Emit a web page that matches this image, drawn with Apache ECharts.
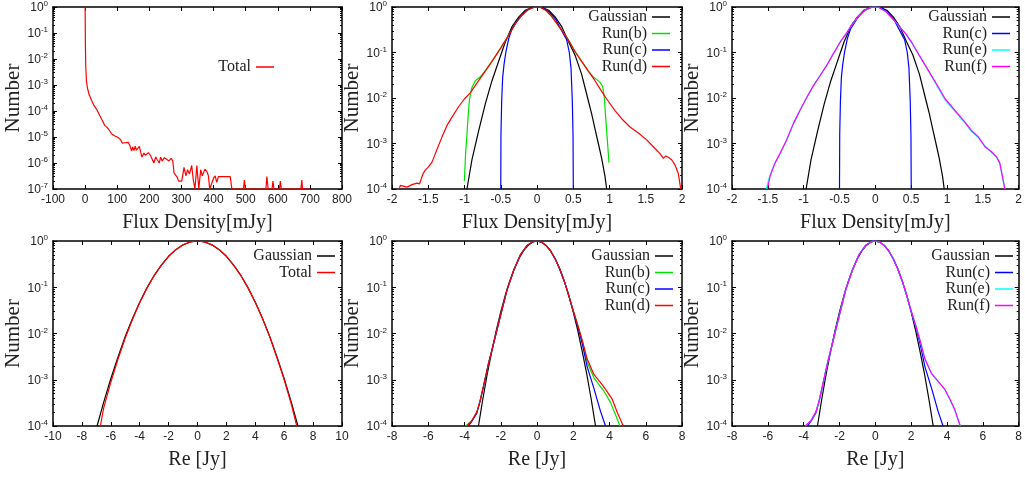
<!DOCTYPE html>
<html><head><meta charset="utf-8">
<script src="https://cdn.jsdelivr.net/npm/echarts@6/dist/echarts.min.js"></script>
<style>html,body{margin:0;padding:0;background:#fff}#c{width:1025px;height:477px}</style>
</head><body><div id="c"></div>
<script>
// ---------- tick labels ----------
const xTicksTotal = [-100, 0, 100, 200, 300, 400, 500, 600, 700, 800];
const xTicksFlux = [-2, -1.5, -1, -0.5, 0, 0.5, 1, 1.5, 2];
const xTicksReTotal = [-10, -8, -6, -4, -2, 0, 2, 4, 6, 8, 10];
const xTicksRe = [-8, -6, -4, -2, 0, 2, 4, 6, 8];
const yTicksWide = [1e-7, 1e-6, 1e-5, 1e-4, 1e-3, 1e-2, 1e-1, 1];
const yTicksNarrow = [1e-4, 1e-3, 1e-2, 1e-1, 1];
const minorMultipliers = [2, 3, 4, 5, 6, 7, 8, 9];

// ---------- panel 1: Total flux density ----------
const totalFlux = [[0,1],[1,0.03],[2,5e-3],[4,1.5e-3],[7,8e-4],[12,4.5e-4],[20,2.6e-4],[28,1.6e-4],[37,1.1e-4],[46,6.6e-5],[54,4.2e-5],[61,2.8e-5],[69,2.3e-5],[77,1.7e-5],[83,1.3e-5],[93,1.1e-5],[103,9.5e-6],[110,8e-6],[116,5.8e-6],[124,6e-6],[134,6.2e-6],[139,4.8e-6],[145,2.9e-6],[148,4.2e-6],[152,3.0e-6],[156,4.4e-6],[160,3.1e-6],[164,3.6e-6],[169,4.4e-6],[173,2.6e-6],[177,1.7e-6],[183,2.4e-6],[188,2.0e-6],[197,2.5e-6],[204,1.9e-6],[210,1.3e-6],[214,1.0e-6],[220,1.7e-6],[225,1.3e-6],[231,1.0e-6],[235,1.7e-6],[240,1.2e-6],[247,1.6e-6],[254,1.4e-6],[261,1.2e-6],[268,1.5e-6],[273,1.2e-6],[277,4.2e-7],[282,5e-7],[287,2.8e-7],[291,2e-7],[301,2e-7],[308,6.8e-7],[314,3.2e-7],[319,5.5e-7],[325,3.8e-7],[332,8e-7],[337,2.2e-7],[342,1e-7],[348,8e-7],[354,1e-7],[360,5.5e-7],[365,3.2e-7],[373,5.8e-7],[379,4.8e-7],[384,3.2e-7],[388,1e-7],[400,2.6e-7],[405,3.2e-7],[410,1.8e-7],[415,3e-7],[452,3e-7],[457,1e-7],[493,1e-7],[496,2.2e-7],[499,1e-7],[563,1e-7],[566,3e-7],[570,1e-7],[582,1e-7],[585,2e-7],[588,1e-7],[605,1e-7],[608,2e-7],[611,1e-7],[672,1e-7],[675,2.2e-7],[677,1e-7],[700,1e-7]];

// ---------- panels 2 & 3: flux density distributions ----------
const gaussFlux = [[-0.966,1e-4],[-0.897,4.4e-4],[-0.805,1.9e-3],[-0.713,7.4e-3],[-0.621,0.024],[-0.529,0.064],[-0.437,0.17],[-0.345,0.37],[-0.253,0.6],[-0.161,0.85],[-0.069,0.98],[0,1],[0.069,0.98],[0.161,0.85],[0.253,0.6],[0.345,0.36],[0.437,0.17],[0.524,0.088],[0.57,0.054],[0.616,0.033],[0.662,0.017],[0.708,8.7e-3],[0.754,4.5e-3],[0.8,2.1e-3],[0.846,1e-3],[0.892,4.7e-4],[0.938,1.9e-4],[0.961,1e-4]];
const runBFlux = [[-1.002,1.5e-4],[-0.985,6e-4],[-0.966,1.6e-3],[-0.95,4e-3],[-0.933,8.7e-3],[-0.915,0.013],[-0.897,0.017],[-0.851,0.024],[-0.782,0.029],[-0.736,0.036],[-0.713,0.04],[-0.621,0.064],[-0.501,0.125],[-0.391,0.24],[-0.299,0.43],[-0.207,0.66],[-0.115,0.89],[-0.023,1],[0.05,0.98],[0.12,0.85],[0.202,0.62],[0.34,0.31],[0.432,0.19],[0.524,0.105],[0.616,0.064],[0.708,0.039],[0.777,0.029],[0.83,0.025],[0.869,0.022],[0.906,0.018],[0.929,0.010],[0.947,3.8e-3],[0.970,1.2e-3],[0.993,3.8e-4]];
const runCFlux = [[-0.5,1e-4],[-0.497,1.6e-3],[-0.487,8.7e-3],[-0.474,0.028],[-0.455,0.054],[-0.428,0.105],[-0.391,0.2],[-0.345,0.33],[-0.253,0.56],[-0.161,0.82],[-0.069,0.97],[0,1],[0.069,0.97],[0.161,0.8],[0.253,0.55],[0.363,0.26],[0.409,0.19],[0.446,0.1],[0.469,0.046],[0.487,8.7e-3],[0.497,1.5e-3],[0.501,1e-4]];
const runDFlux = [[-1.9,1e-4],[-1.885,1.2e-4],[-1.86,1.1e-4],[-1.793,1.1e-4],[-1.724,1.25e-4],[-1.655,1.35e-4],[-1.62,1.3e-4],[-1.595,1.4e-4],[-1.57,2.2e-4],[-1.54,2.6e-4],[-1.494,3.1e-4],[-1.448,3.9e-4],[-1.402,6e-4],[-1.31,1.4e-3],[-1.241,2.5e-3],[-1.172,3.8e-3],[-1.08,6.5e-3],[-1.002,9.5e-3],[-0.92,0.013],[-0.805,0.024],[-0.713,0.039],[-0.621,0.064],[-0.501,0.125],[-0.391,0.24],[-0.299,0.43],[-0.207,0.66],[-0.115,0.89],[-0.023,1],[0.05,0.98],[0.12,0.85],[0.202,0.62],[0.34,0.31],[0.432,0.19],[0.524,0.105],[0.616,0.064],[0.708,0.039],[0.8,0.024],[0.892,0.014],[0.961,9.5e-3],[1.076,5.3e-3],[1.168,3.5e-3],[1.283,2.3e-3],[1.398,1.7e-3],[1.513,1.2e-3],[1.605,8.5e-4],[1.697,6e-4],[1.743,4.7e-4],[1.775,5.3e-4],[1.811,5e-4],[1.857,4.4e-4],[1.903,3.4e-4],[1.949,2.2e-4],[1.982,1e-4]];
const runEFlux = [[-1.52,1e-4],[-1.48,1.8e-4],[-1.41,3.5e-4],[-1.331,5.8e-4],[-1.239,1.15e-3],[-1.146,2.6e-3],[-1.054,5.1e-3],[-0.962,9.8e-3],[-0.87,0.018],[-0.777,0.03],[-0.685,0.05],[-0.593,0.09],[-0.5,0.16],[-0.408,0.26],[-0.316,0.43],[-0.224,0.66],[-0.131,0.88],[-0.039,1],[0.05,0.98],[0.145,0.8],[0.28,0.47],[0.422,0.26],[0.514,0.16],[0.607,0.09],[0.745,0.039],[0.883,0.016],[0.976,9e-3],[1.114,5e-3],[1.253,2.8e-3],[1.345,1.8e-3],[1.437,1.35e-3],[1.53,8.8e-4],[1.622,6.3e-4],[1.691,5e-4],[1.737,3.6e-4],[1.783,1.5e-4],[1.81,1e-4]];
const runFFlux = [[-1.506,1e-4],[-1.469,1.9e-4],[-1.4,3.7e-4],[-1.331,6e-4],[-1.239,1.2e-3],[-1.146,2.7e-3],[-1.054,5.3e-3],[-0.962,0.010],[-0.87,0.018],[-0.777,0.030],[-0.685,0.05],[-0.593,0.09],[-0.5,0.16],[-0.408,0.26],[-0.316,0.43],[-0.224,0.66],[-0.131,0.88],[-0.039,1],[0.05,0.98],[0.145,0.8],[0.28,0.47],[0.422,0.26],[0.514,0.16],[0.607,0.09],[0.745,0.039],[0.883,0.017],[0.976,9.5e-3],[1.114,5.3e-3],[1.253,2.9e-3],[1.345,1.9e-3],[1.437,1.4e-3],[1.53,8.5e-4],[1.622,6.6e-4],[1.691,5.1e-4],[1.737,3.7e-4],[1.783,1.6e-4],[1.806,1e-4]];

// ---------- panel 4: Re, total ----------
const gaussReTotal = [[-6.95,1e-4],[-6.5,3.2e-4],[-6,1.05e-3],[-5.5,3.1e-3],[-5,8.6e-3],[-4.5,0.021],[-4,0.0476],[-3.5,0.097],[-3,0.18],[-2.5,0.30],[-2,0.467],[-1.5,0.65],[-1,0.826],[-0.5,0.953],[0,1],[0.5,0.953],[1,0.826],[1.5,0.65],[2,0.467],[2.5,0.30],[3,0.18],[3.5,0.097],[4,0.0476],[4.5,0.021],[5,8.6e-3],[5.5,3.1e-3],[6,1.05e-3],[6.5,3.2e-4],[6.95,1e-4]];
const totalRe = [[-6.72,1e-4],[-6.5,2.4e-4],[-6,8.8e-4],[-5.5,2.8e-3],[-5,8e-3],[-4.5,0.02],[-4,0.046],[-3.5,0.095],[-3,0.178],[-2.5,0.30],[-2,0.467],[-1.5,0.65],[-1,0.83],[-0.5,0.955],[0,1],[0.5,0.953],[1,0.826],[1.5,0.65],[2,0.467],[2.5,0.30],[3,0.18],[3.5,0.097],[4,0.0476],[4.5,0.021],[5,8.5e-3],[5.5,3e-3],[6,1e-3],[6.5,2.9e-4],[6.87,1e-4]];

// ---------- panels 5 & 6: Re per run ----------
const gaussRe = [[-3.23,1e-4],[-3,3.6e-4],[-2.75,1.3e-3],[-2.5,4e-3],[-2.25,0.0115],[-2,0.0293],[-1.75,0.067],[-1.5,0.137],[-1.25,0.252],[-1,0.414],[-0.75,0.609],[-0.5,0.80],[-0.25,0.946],[0,1],[0.25,0.946],[0.5,0.80],[0.75,0.609],[1,0.414],[1.25,0.252],[1.5,0.137],[1.75,0.067],[2,0.0293],[2.25,0.0115],[2.5,4e-3],[2.75,1.3e-3],[3,3.6e-4],[3.23,1e-4]];
const runBRe = [[-3.93,1e-4],[-3.6,1.3e-4],[-3.32,2e-4],[-3.14,3.5e-4],[-2.95,7.4e-4],[-2.68,2.2e-3],[-2.4,6e-3],[-2.03,0.023],[-1.66,0.086],[-1.29,0.23],[-0.92,0.5],[-0.55,0.8],[-0.18,0.99],[0,1],[0.25,0.946],[0.5,0.8],[0.75,0.609],[1,0.414],[1.25,0.252],[1.5,0.137],[1.75,0.067],[2,0.031],[2.3,0.013],[2.5,6.8e-3],[2.77,2.4e-3],[3.14,1.1e-3],[3.69,5.7e-4],[4.06,3.2e-4],[4.43,1.4e-4],[4.58,1e-4]];
const runCRe = [[-3.78,1e-4],[-3.6,1.25e-4],[-3.32,1.9e-4],[-3.14,3.4e-4],[-2.95,7.2e-4],[-2.68,2.2e-3],[-2.4,6e-3],[-2.03,0.023],[-1.66,0.086],[-1.29,0.23],[-0.92,0.5],[-0.55,0.8],[-0.18,0.99],[0,1],[0.25,0.946],[0.5,0.8],[0.75,0.609],[1,0.414],[1.25,0.252],[1.5,0.137],[1.75,0.067],[2,0.03],[2.3,0.012],[2.5,6e-3],[2.77,1.9e-3],[3.14,6.5e-4],[3.5,2.1e-4],[3.78,1e-4]];
const runDRe = [[-3.87,1e-4],[-3.6,1.3e-4],[-3.32,2e-4],[-3.14,3.5e-4],[-2.95,7.4e-4],[-2.68,2.2e-3],[-2.4,6e-3],[-2.03,0.023],[-1.66,0.086],[-1.29,0.23],[-0.92,0.5],[-0.55,0.8],[-0.18,0.99],[0,1],[0.25,0.946],[0.5,0.8],[0.75,0.609],[1,0.414],[1.25,0.252],[1.5,0.137],[1.75,0.067],[2,0.031],[2.3,0.013],[2.5,7e-3],[2.77,2.8e-3],[3.14,1.3e-3],[3.69,7e-4],[4.15,3.8e-4],[4.43,1.95e-4],[4.76,1e-4]];
const runERe = [[-3.91,1e-4],[-3.6,1.3e-4],[-3.32,2e-4],[-3.14,3.5e-4],[-2.95,7.4e-4],[-2.68,2.2e-3],[-2.4,6e-3],[-2.03,0.023],[-1.66,0.086],[-1.29,0.23],[-0.92,0.5],[-0.55,0.8],[-0.18,0.99],[0,1],[0.25,0.946],[0.5,0.8],[0.75,0.609],[1,0.414],[1.25,0.252],[1.5,0.137],[1.75,0.067],[2,0.031],[2.3,0.013],[2.5,7e-3],[2.77,2.8e-3],[3.14,1.35e-3],[3.87,6.2e-4],[4.15,3.8e-4],[4.43,2.2e-4],[4.74,1e-4]];
const runFRe = [[-3.91,1e-4],[-3.6,1.3e-4],[-3.32,2e-4],[-3.14,3.5e-4],[-2.95,7.4e-4],[-2.68,2.2e-3],[-2.4,6e-3],[-2.03,0.023],[-1.66,0.086],[-1.29,0.23],[-0.92,0.5],[-0.55,0.8],[-0.18,0.99],[0,1],[0.25,0.946],[0.5,0.8],[0.75,0.609],[1,0.414],[1.25,0.252],[1.5,0.137],[1.75,0.067],[2,0.031],[2.3,0.013],[2.5,7e-3],[2.77,2.8e-3],[3.14,1.35e-3],[3.87,6.3e-4],[4.15,3.9e-4],[4.43,2.3e-4],[4.74,1e-4]];

// ---------- layout ----------
const SANS = 'Liberation Sans';
const SERIF = 'Liberation Serif';
const TXT = '#222';
const grids = [
  {left:53, top:5, width:289, height:184},
  {left:392, top:5, width:290, height:184},
  {left:732, top:5, width:289, height:184},
  {left:53, top:241, width:289, height:185},
  {left:392, top:241, width:290, height:185},
  {left:732, top:241, width:289, height:185}
];
const xTickSets = [xTicksTotal, xTicksFlux, xTicksFlux, xTicksReTotal, xTicksRe, xTicksRe];
const yTickSets = [yTicksWide, yTicksNarrow, yTicksNarrow, yTicksNarrow, yTicksNarrow, yTicksNarrow];
const xNames = ['Flux Density[mJy]','Flux Density[mJy]','Flux Density[mJy]','Re [Jy]','Re [Jy]','Re [Jy]'];

const axisLine = {show:true, onZero:false, lineStyle:{color:'#000', width:1.5}};
const xAxes = [], yAxes = [];
grids.forEach((g, i) => {
  const xt = xTickSets[i], yt = yTickSets[i];
  const xBase = {type:'value', gridIndex:i, min:xt[0], max:xt[xt.length-1], interval:xt[1]-xt[0],
    splitLine:{show:false}, axisLine:axisLine,
    axisTick:{show:true, inside:true, length:4, lineStyle:{color:'#000', width:1}}};
  xAxes.push(Object.assign({}, xBase, {position:'bottom',
    axisLabel:{show:true, fontFamily:SANS, fontSize:12, color:TXT, margin:5},
    name:xNames[i], nameLocation:'middle', nameGap:24,
    nameTextStyle:{fontFamily:SERIF, fontSize:20, color:TXT}}));
  xAxes.push(Object.assign({}, xBase, {position:'top', axisLabel:{show:false}}));
  const yBase = {type:'log', logBase:10, gridIndex:i, min:yt[0], max:yt[yt.length-1],
    splitNumber: yt.length - 1, splitLine:{show:false}, axisLine:axisLine,
    axisTick:{show:true, inside:true, length:4, lineStyle:{color:'#000', width:1}}};
  yAxes.push(Object.assign({}, yBase, {position:'left',
    axisLabel:{show:true, margin:5,
      formatter: v => '{a|10}{b|' + Math.round(Math.log10(v)) + '}',
      rich:{a:{fontFamily:SANS, fontSize:12, color:TXT, lineHeight:14, verticalAlign:'bottom'},
            b:{fontFamily:SANS, fontSize:8, color:TXT, lineHeight:8, verticalAlign:'top'}}},
    name:'Number', nameLocation:'middle', nameGap:23,
    nameTextStyle:{fontFamily:SERIF, fontSize:21, color:TXT}}));
  yAxes.push(Object.assign({}, yBase, {position:'right', axisLabel:{show:false}}));
  // logarithmic minor ticks (2..9 within each decade), left and right
  const minors = [];
  yt.slice(0, -1).forEach(d => minorMultipliers.forEach(m => minors.push(m * d)));
  ['left','right'].forEach(pos => {
    yAxes.push(Object.assign({}, yBase, {position:pos,
      axisLine:{show:false, onZero:false},
      axisLabel:{show:false},
      axisTick:{show:true, inside:true, length:2, customValues:minors, lineStyle:{color:'#000', width:1}}}));
  });
});

function line(name, data, color, gi) {
  return {type:'line', name:name, data:data, xAxisIndex:2*gi, yAxisIndex:4*gi,
    symbol:'none', showSymbol:false, animation:false, clip:true,
    lineStyle:{color:color, width:1.2}, itemStyle:{color:color}};
}
const BLACK='#000000', RED='#ff0000', GREEN='#00e000', BLUE='#0000ff', CYAN='#00ffff', MAGENTA='#ff00ff';
const series = [
  line('Total', totalFlux, RED, 0),
  line('Gaussian', gaussFlux, BLACK, 1), line('Run(b)', runBFlux, GREEN, 1), line('Run(c)', runCFlux, BLUE, 1), line('Run(d)', runDFlux, RED, 1),
  line('Gaussian', gaussFlux, BLACK, 2), line('Run(c)', runCFlux, BLUE, 2), line('Run(e)', runEFlux, CYAN, 2), line('Run(f)', runFFlux, MAGENTA, 2),
  line('Gaussian', gaussReTotal, BLACK, 3), line('Total', totalRe, RED, 3),
  line('Gaussian', gaussRe, BLACK, 4), line('Run(b)', runBRe, GREEN, 4), line('Run(c)', runCRe, BLUE, 4), line('Run(d)', runDRe, RED, 4),
  line('Gaussian', gaussRe, BLACK, 5), line('Run(c)', runCRe, BLUE, 5), line('Run(e)', runERe, CYAN, 5), line('Run(f)', runFRe, MAGENTA, 5)
];
function legend(names, right, top) {
  return {data:names, orient:'vertical', right:right, top:top, align:'right', padding:0,
    icon:'rect', itemWidth:18, itemHeight:1.5, itemGap:0.5, selectedMode:false,
    textStyle:{fontFamily:SERIF, fontSize:16, color:TXT, lineHeight:14}};
}
const legends = [
  legend(['Total'], 751, 59),
  legend(['Gaussian','Run(b)','Run(c)','Run(d)'], 355, 9),
  legend(['Gaussian','Run(c)','Run(e)','Run(f)'], 15, 9),
  legend(['Gaussian','Total'], 690, 248),
  legend(['Gaussian','Run(b)','Run(c)','Run(d)'], 352, 248),
  legend(['Gaussian','Run(c)','Run(e)','Run(f)'], 12, 248)
];

const chart = echarts.init(document.getElementById('c'), null, {renderer:'canvas'});
chart.setOption({
  backgroundColor:'#fff', animation:false,
  grid:grids, xAxis:xAxes, yAxis:yAxes, legend:legends, series:series
});
</script></body></html>
